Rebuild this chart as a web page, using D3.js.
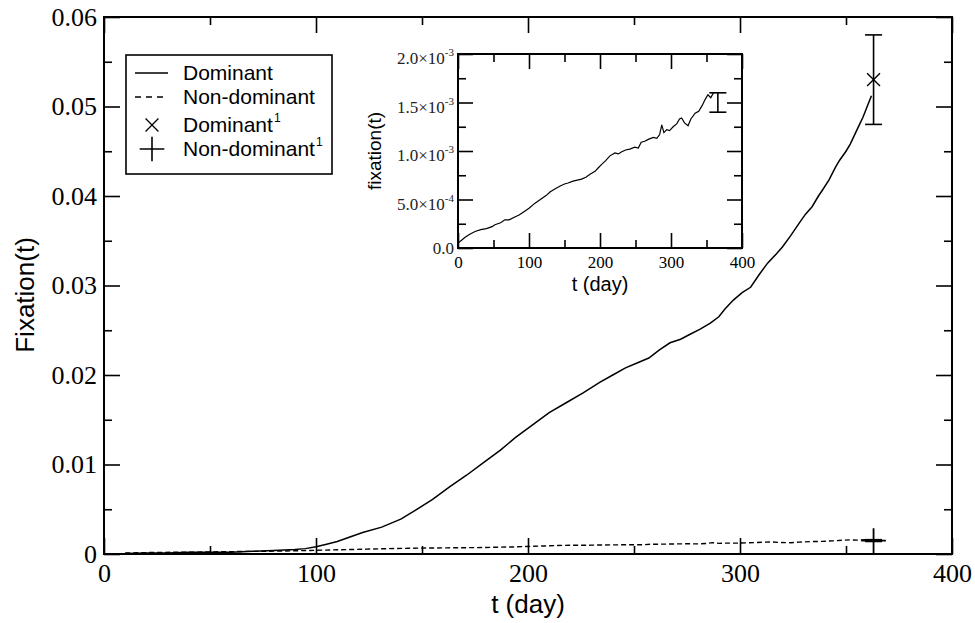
<!DOCTYPE html>
<html>
<head>
<meta charset="utf-8">
<script src="https://cdn.jsdelivr.net/npm/d3@7"></script>
<style>
  html, body { margin: 0; padding: 0; background: #fff; }
  svg { display: block; }
  .serif { font-family: "Liberation Serif", "DejaVu Serif", serif; }
  .sans { font-family: "Liberation Sans", Arial, sans-serif; }
</style>
</head>
<body>
<svg id="chart" width="975" height="623"></svg>
<script>
// Dominant fixation probability (solid line)
const domDays = [10, 20, 30, 40, 50, 60, 70, 80, 90, 95, 100, 105, 110, 116, 122, 131, 140, 147, 155, 163,
  171, 179, 187, 194, 202, 210, 218, 226, 234, 240, 246, 252, 257, 262, 267, 272, 276, 281, 286, 290,
  293, 297, 301, 305, 309, 313, 317, 320, 324, 328, 331, 334, 337, 339, 342, 345, 347, 350, 352, 354,
  356, 358, 360, 362];
const domValues = [0.00005, 0.0001, 0.0001, 0.0002, 0.0002, 0.0002, 0.0003, 0.0004, 0.0005, 0.0006,
  0.0008, 0.0011, 0.0014, 0.0019, 0.0024, 0.0030, 0.0039, 0.0049, 0.0061, 0.0075,
  0.0088, 0.0102, 0.0116, 0.0130, 0.0144, 0.0158, 0.0169, 0.0180, 0.0192, 0.0200,
  0.0208, 0.0214, 0.0219, 0.0228, 0.0236, 0.0240, 0.0245, 0.0251, 0.0258, 0.0265,
  0.0274, 0.0284, 0.0292, 0.0298, 0.0312, 0.0325, 0.0335, 0.0343, 0.0356, 0.0370,
  0.0380, 0.0388, 0.0400, 0.0407, 0.0418, 0.0432, 0.0440, 0.0450, 0.0458, 0.0468,
  0.0478, 0.0488, 0.0500, 0.0512];

// Non-dominant fixation probability (dashed line in main plot, line in inset)
const nonDays = [0, 5, 10, 16, 24, 32, 40, 48, 52, 60, 66, 72, 80, 86, 94, 100, 108, 116, 124, 130,
  137, 144, 150, 155, 162, 168, 174, 180, 186, 193, 198, 202, 208, 214, 221, 226, 230, 236, 242, 249,
  254, 258, 263, 268, 275, 280, 284, 287, 290, 294, 298, 303, 308, 312, 315, 319, 324, 328, 334, 339,
  344, 348, 352, 356, 360];
const nonValues = [0.05, 0.08, 0.11, 0.14, 0.17, 0.19, 0.20, 0.22, 0.24, 0.26, 0.29, 0.29, 0.32, 0.34,
  0.38, 0.41, 0.46, 0.50, 0.54, 0.58, 0.61, 0.64, 0.66, 0.67, 0.69, 0.70, 0.71, 0.73, 0.76, 0.79,
  0.83, 0.86, 0.90, 0.95, 0.98, 0.97, 0.99, 1.01, 1.02, 1.04, 1.03, 1.09, 1.10, 1.12, 1.14, 1.13,
  1.17, 1.27, 1.19, 1.22, 1.21, 1.25, 1.28, 1.33, 1.34, 1.29, 1.26, 1.33, 1.39, 1.41, 1.47, 1.53,
  1.58, 1.55, 1.60].map(v => v * 1e-3);

// Reference points with error bars (superscript 1 in legend)
const refDay = 363;
const domRef = { value: 0.053, low: 0.048, high: 0.058 };
const nonRef = { value: 0.0015, low: 0.0014, high: 0.0016 };
const insetRefDay = 366;
const insetRef = { low: 0.0014, high: 0.0016 };

// Axis ticks and labels
const xMajor = [0, 100, 200, 300, 400];
const xMinor = [50, 150, 250, 350];
const yMajor = [0, 0.01, 0.02, 0.03, 0.04, 0.05, 0.06];
const yMinor = [0.005, 0.015, 0.025, 0.035, 0.045, 0.055];
const yLabels = ['0', '0.01', '0.02', '0.03', '0.04', '0.05', '0.06'];
const insetYMajor = [0, 0.0005, 0.001, 0.0015, 0.002];
const insetYMinor = [0.00025, 0.00075, 0.00125, 0.00175];
const insetYMantissa = ['0.0', '5.0\u00d710', '1.0\u00d710', '1.5\u00d710', '2.0\u00d710'];
const insetYExponent = ['', '-4', '-3', '-3', '-3'];

const legendLabels = ['Dominant', 'Non-dominant', 'Dominant', 'Non-dominant'];

const svg = d3.select('#chart');
svg.append('rect').attr('width', 975).attr('height', 623).attr('fill', '#fff');

// Main plot scales
const x = d3.scaleLinear().domain([0, 400]).range([104, 952]);
const y = d3.scaleLinear().domain([0, 0.06]).range([554, 17]);

function styleAxis(g, fontClass, size) {
  g.select('.domain').remove();
  g.selectAll('.tick line').attr('stroke', '#000').attr('stroke-width', 1.6);
  g.selectAll('.tick text').attr('class', fontClass).attr('font-size', size).attr('fill', '#000');
}

// major + minor ticks on all four sides, pointing inward
function drawFrameTicks(sx, sy, major, minor, xMaj, xMin, yMaj, yMin) {
  const [x0, x1] = sx.range();
  const [y0, y1] = sy.range();
  svg.append('g').attr('transform', `translate(0,${y0})`)
    .call(d3.axisBottom(sx).tickValues(xMaj).tickSize(-major).tickFormat(''))
    .call(g => styleAxis(g));
  svg.append('g').attr('transform', `translate(0,${y0})`)
    .call(d3.axisBottom(sx).tickValues(xMin).tickSize(-minor).tickFormat(''))
    .call(g => styleAxis(g));
  svg.append('g').attr('transform', `translate(0,${y1})`)
    .call(d3.axisTop(sx).tickValues(xMaj).tickSize(-major).tickFormat(''))
    .call(g => styleAxis(g));
  svg.append('g').attr('transform', `translate(0,${y1})`)
    .call(d3.axisTop(sx).tickValues(xMin).tickSize(-minor).tickFormat(''))
    .call(g => styleAxis(g));
  svg.append('g').attr('transform', `translate(${x0},0)`)
    .call(d3.axisLeft(sy).tickValues(yMaj).tickSize(-major).tickFormat(''))
    .call(g => styleAxis(g));
  svg.append('g').attr('transform', `translate(${x0},0)`)
    .call(d3.axisLeft(sy).tickValues(yMin).tickSize(-minor).tickFormat(''))
    .call(g => styleAxis(g));
  svg.append('g').attr('transform', `translate(${x1},0)`)
    .call(d3.axisRight(sy).tickValues(yMaj).tickSize(-major).tickFormat(''))
    .call(g => styleAxis(g));
  svg.append('g').attr('transform', `translate(${x1},0)`)
    .call(d3.axisRight(sy).tickValues(yMin).tickSize(-minor).tickFormat(''))
    .call(g => styleAxis(g));
  svg.append('rect')
    .attr('x', x0).attr('y', y1)
    .attr('width', x1 - x0).attr('height', y0 - y1)
    .attr('fill', 'none').attr('stroke', '#000').attr('stroke-width', 2);
}

drawFrameTicks(x, y, 16, 8, xMajor, xMinor, yMajor, yMinor);

// tick labels of the main plot
svg.append('g').attr('transform', 'translate(0,554)')
  .call(d3.axisBottom(x).tickValues(xMajor).tickSize(0).tickPadding(10).tickFormat(d3.format('d')))
  .call(g => styleAxis(g, 'serif', 26));
svg.append('g').attr('transform', 'translate(104,0)')
  .call(d3.axisLeft(y).tickValues(yMajor).tickSize(0).tickPadding(7).tickFormat((d, i) => yLabels[i]))
  .call(g => styleAxis(g, 'serif', 26));

svg.append('text').attr('class', 'sans')
  .attr('x', 528).attr('y', 613).attr('text-anchor', 'middle')
  .attr('font-size', 26).text('t (day)');
svg.append('text').attr('class', 'sans')
  .attr('transform', 'translate(34,295) rotate(-90)').attr('text-anchor', 'middle')
  .attr('font-size', 26).text('Fixation(t)');

// curves
const domData = domDays.map((d, i) => ({ t: d, v: domValues[i] }));
const nonData = nonDays.map((d, i) => ({ t: d, v: nonValues[i] })).filter(d => d.t >= 10);

const line = d3.line().x(d => x(d.t)).y(d => y(d.v));
svg.append('path').datum(domData)
  .attr('d', line).attr('fill', 'none').attr('stroke', '#000').attr('stroke-width', 1.5);
svg.append('path').datum(nonData)
  .attr('d', line).attr('fill', 'none').attr('stroke', '#000').attr('stroke-width', 1.4)
  .attr('stroke-dasharray', '5,3');

function errorBar(sx, sy, t, ref, cap) {
  const g = svg.append('g').attr('stroke', '#000').attr('stroke-width', 1.6);
  g.append('line').attr('x1', sx(t)).attr('x2', sx(t)).attr('y1', sy(ref.low)).attr('y2', sy(ref.high));
  g.append('line').attr('x1', sx(t) - cap).attr('x2', sx(t) + cap).attr('y1', sy(ref.low)).attr('y2', sy(ref.low));
  g.append('line').attr('x1', sx(t) - cap).attr('x2', sx(t) + cap).attr('y1', sy(ref.high)).attr('y2', sy(ref.high));
}

errorBar(x, y, refDay, domRef, 8.5);
errorBar(x, y, refDay, nonRef, 8.5);
svg.append('path')
  .attr('d', d3.symbol(d3.symbolX, 110)())
  .attr('transform', `translate(${x(refDay)},${y(domRef.value)})`)
  .attr('fill', 'none').attr('stroke', '#000').attr('stroke-width', 1.4);
svg.append('path')
  .attr('d', d3.symbol(d3.symbolCross2 || d3.symbolPlus, 200)())
  .attr('transform', `translate(${x(refDay)},${y(nonRef.value)})`)
  .attr('fill', 'none').attr('stroke', '#000').attr('stroke-width', 1.8);

// legend
const legend = svg.append('g');
legend.append('rect')
  .attr('x', 126).attr('y', 55).attr('width', 206).attr('height', 119)
  .attr('fill', '#fff').attr('stroke', '#000').attr('stroke-width', 1.6);
const rowY = [73, 97, 125, 149];
legend.append('line').attr('x1', 135).attr('x2', 168).attr('y1', rowY[0]).attr('y2', rowY[0])
  .attr('stroke', '#000').attr('stroke-width', 1.5);
legend.append('line').attr('x1', 135).attr('x2', 168).attr('y1', rowY[1]).attr('y2', rowY[1])
  .attr('stroke', '#000').attr('stroke-width', 1.4).attr('stroke-dasharray', '6,5');
legend.append('path').attr('d', d3.symbol(d3.symbolX, 110)())
  .attr('transform', `translate(152,${rowY[2]})`)
  .attr('fill', 'none').attr('stroke', '#000').attr('stroke-width', 1.3);
legend.append('path').attr('d', d3.symbol(d3.symbolCross2 || d3.symbolPlus, 200)())
  .attr('transform', `translate(152,${rowY[3]})`)
  .attr('fill', 'none').attr('stroke', '#000').attr('stroke-width', 1.6);
legendLabels.forEach((lab, i) => {
  const t = legend.append('text').attr('class', 'sans')
    .attr('x', 183).attr('y', rowY[i] + 7).attr('font-size', 21).text(lab);
  if (i >= 2) {
    t.append('tspan').attr('font-size', 12).attr('dy', -10).attr('dx', 1).text('1');
  }
});

// inset
const xi = d3.scaleLinear().domain([0, 400]).range([458, 742]);
const yi = d3.scaleLinear().domain([0, 0.002]).range([248, 54]);
svg.append('rect').attr('x', 458).attr('y', 54).attr('width', 284).attr('height', 194).attr('fill', '#fff');
drawFrameTicks(xi, yi, 15, 8, xMajor, xMinor, insetYMajor, insetYMinor);

svg.append('g').attr('transform', 'translate(0,248)')
  .call(d3.axisBottom(xi).tickValues(xMajor).tickSize(0).tickPadding(8).tickFormat(d3.format('d')))
  .call(g => styleAxis(g, 'serif', 17));
svg.append('g').selectAll('text')
  .data(insetYMajor)
  .enter().append('text')
  .attr('class', 'serif')
  .attr('x', 454)
  .attr('y', d => yi(d) + (d === 0 ? 6 : 10))
  .attr('text-anchor', 'end')
  .attr('font-size', 17)
  .attr('fill', '#222')
  .each(function(d, i) {
    const t = d3.select(this);
    t.append('tspan').text(insetYMantissa[i]);
    if (insetYExponent[i]) t.append('tspan').attr('font-size', 11).attr('dy', -8).text(insetYExponent[i]);
  });

svg.append('text').attr('class', 'sans')
  .attr('x', 600).attr('y', 291).attr('text-anchor', 'middle')
  .attr('font-size', 20).text('t (day)');
svg.append('text').attr('class', 'sans')
  .attr('transform', 'translate(381,151) rotate(-90)').attr('text-anchor', 'middle')
  .attr('font-size', 19).text('fixation(t)');

const insetLine = d3.line().x(d => xi(d.t)).y(d => yi(d.v));
svg.append('path').datum(nonDays.map((d, i) => ({ t: d, v: nonValues[i] })))
  .attr('d', insetLine).attr('fill', 'none').attr('stroke', '#000').attr('stroke-width', 1.2);
errorBar(xi, yi, insetRefDay, insetRef, 8.5);
</script>
</body>
</html>
